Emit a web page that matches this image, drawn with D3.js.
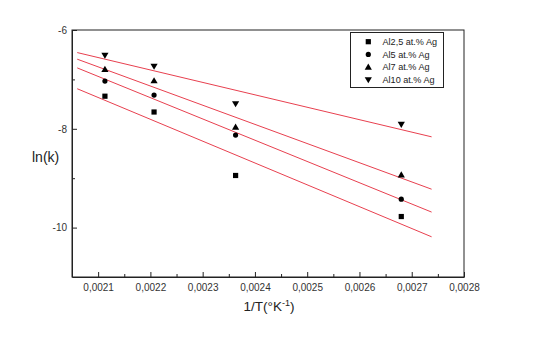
<!DOCTYPE html>
<html>
<head>
<meta charset="utf-8">
<script src="https://cdn.jsdelivr.net/npm/d3@7"></script>
<style>
  body { margin: 0; background: #fff; }
  text { font-family: "Liberation Sans", Arial, sans-serif; }
</style>
</head>
<body>
<div id="chart"></div>
<script>
/* Data. */
const invT = [0.002113, 0.002207, 0.002363, 0.00268]
const seriesNames = ["Al2,5 at.% Ag", "Al5 at.% Ag", "Al7 at.% Ag", "Al10 at.% Ag"]
const lnK25 = [-7.34, -7.66, -8.945, -9.776]
const lnK5 = [-7.033, -7.317, -8.128, -9.425]
const lnK7 = [-6.797, -7.027, -7.966, -8.932]
const lnK10 = [-6.513, -6.736, -7.493, -7.911]
const symbols = ["square", "circle", "up", "down"]
const fitRange = [0.00206, 0.002738]
const xTicks = [0.0021, 0.0022, 0.0023, 0.0024, 0.0025, 0.0026, 0.0027, 0.0028]
const xMinor = [0.00215, 0.00225, 0.00235, 0.00245, 0.00255, 0.00265, 0.00275]
const yTicks = [-6, -8, -10]
const yMinor = [-7, -9]

const allSeries = [lnK25, lnK5, lnK7, lnK10]

/* Svg size. */
const width = 533
const height = 340
const mLeft = 72, mRight = 464, mTop = 30, mBottom = 277

const svg = d3.select("#chart")
  .append("svg")
  .attr("width", width)
  .attr("height", height)

/* Scales. */
const x = d3.scaleLinear().domain([0.00205, 0.0028]).range([mLeft, mRight])
const y = d3.scaleLinear().domain([-11, -6]).range([mBottom, mTop])

const fmt = d => d.toFixed(4).replace(".", ",")

/* Axes with inward ticks. */
const xAxis = svg.append("g")
  .attr("transform", `translate(0, ${mBottom})`)
  .call(d3.axisBottom(x).tickValues(xTicks).tickFormat(fmt).tickSizeInner(-5).tickSizeOuter(0).tickPadding(7))
xAxis.append("g")
  .call(d3.axisBottom(x).tickValues(xMinor).tickFormat("").tickSizeInner(-3).tickSizeOuter(0))
  .select(".domain").remove()

const yAxis = svg.append("g")
  .attr("transform", `translate(${mLeft}, 0)`)
  .call(d3.axisLeft(y).tickValues(yTicks).tickFormat(d => String(d)).tickSizeInner(-5).tickSizeOuter(0).tickPadding(5))
yAxis.append("g")
  .call(d3.axisLeft(y).tickValues(yMinor).tickFormat("").tickSizeInner(-3).tickSizeOuter(0))
  .select(".domain").remove()

svg.selectAll(".tick text")
  .attr("font-size", 10)
  .attr("fill", "#333")
  .attr("font-family", "Liberation Sans, Arial, sans-serif")
svg.selectAll(".domain, .tick line").attr("stroke", "#222")

/* Frame. */
svg.append("rect")
  .attr("x", mLeft)
  .attr("y", mTop)
  .attr("width", mRight - mLeft)
  .attr("height", mBottom - mTop)
  .attr("fill", "none")
  .attr("stroke", "#222")
  .attr("stroke-width", 1)

/* Linear fit lines (least squares on each series). */
function fit(ys) {
  const mx = d3.mean(invT), my = d3.mean(ys)
  const sxy = d3.sum(invT, (xv, i) => (xv - mx) * (ys[i] - my))
  const sxx = d3.sum(invT, xv => (xv - mx) ** 2)
  const b = sxy / sxx
  return xv => my + b * (xv - mx)
}

const line = d3.line().x(d => x(d[0])).y(d => y(d[1]))

allSeries.forEach(ys => {
  const f = fit(ys)
  svg.append("path")
    .attr("d", line(fitRange.map(xv => [xv, f(xv)])))
    .attr("fill", "none")
    .attr("stroke", "#e8404f")
    .attr("stroke-width", 1)
})

/* Symbols. */
function drawSymbol(g, type, cx, cy) {
  if (type === "square") {
    g.append("rect").attr("x", cx - 2.6).attr("y", cy - 2.6).attr("width", 5.2).attr("height", 5.2).attr("fill", "#000")
  } else if (type === "circle") {
    g.append("circle").attr("cx", cx).attr("cy", cy).attr("r", 2.6).attr("fill", "#000")
  } else if (type === "up") {
    g.append("path").attr("d", `M${cx},${cy - 3.5}L${cx + 3.6},${cy + 2.6}L${cx - 3.6},${cy + 2.6}Z`).attr("fill", "#000")
  } else {
    g.append("path").attr("d", `M${cx},${cy + 3.5}L${cx + 3.6},${cy - 2.6}L${cx - 3.6},${cy - 2.6}Z`).attr("fill", "#000")
  }
}

const points = svg.append("g")
allSeries.forEach((ys, s) => {
  ys.forEach((v, i) => drawSymbol(points, symbols[s], x(invT[i]), y(v)))
})

/* Legend. */
const legend = svg.append("g")
legend.append("rect")
  .attr("x", 350.5)
  .attr("y", 32.5)
  .attr("width", 93)
  .attr("height", 55)
  .attr("fill", "#fff")
  .attr("stroke", "#222")
  .attr("stroke-width", 1)

seriesNames.forEach((name, i) => {
  const ry = 41.7 + i * 12.7
  drawSymbol(legend, symbols[i], 368.3, ry)
  legend.append("text")
    .attr("x", 382.5)
    .attr("y", ry + 3.2)
    .attr("font-size", 9.1)
    .attr("fill", "#222")
    .text(name)
})

/* Axis titles. */
const xt = svg.append("text")
  .attr("x", 269)
  .attr("y", 311)
  .attr("text-anchor", "middle")
  .attr("font-size", 13.5)
  .attr("fill", "#222")
xt.append("tspan").text("1/T(°K")
xt.append("tspan").attr("font-size", 9).attr("dy", -5).text("-1")
xt.append("tspan").attr("dy", 5).text(")")

svg.append("text")
  .attr("x", 32)
  .attr("y", 161.5)
  .attr("font-size", 14)
  .attr("fill", "#222")
  .text("ln(k)")
</script>
</body>
</html>
